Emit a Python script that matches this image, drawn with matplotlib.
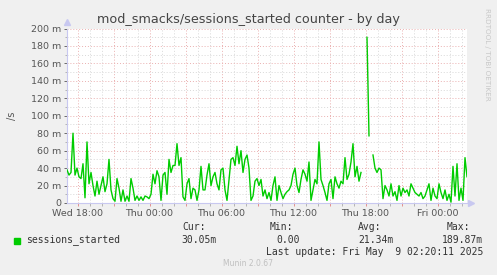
import matplotlib.pyplot as plt
import numpy as np

# munin "by day" graph, one sample every 10 minutes, values in milli/s
START_HOUR = 17.125  # hours since Wed 00:00
STEP_HOURS = 1 / 6

sessions_started = [
    38, 32, 35, 80, 32, 40, 30, 28, 45, 6,
    70, 22, 35, 20, 8, 25, 10, 20, 30, 13,
    22, 50, 15, 5, 2, 28, 17, 2, 15, 2,
    8, 2, 28, 17, 3, 8, 3, 7, 3, 8,
    7, 5, 10, 33, 22, 37, 30, 3, 32, 35,
    10, 50, 35, 43, 43, 68, 43, 52, 7, 3,
    22, 28, 5, 17, 15, 3, 15, 42, 15, 15,
    32, 45, 20, 30, 35, 22, 15, 38, 40, 15,
    3, 27, 50, 52, 43, 65, 45, 60, 35, 50,
    55, 40, 3, 8, 25, 28, 20, 27, 8, 15,
    5, 12, 3, 20, 30, 3, 20, 12, 5, 10,
    13, 15, 20, 33, 40, 20, 12, 27, 38, 33,
    25, 47, 3, 15, 27, 22, 70, 27, 20, 12,
    3, 22, 27, 5, 30, 22, 17, 25, 22, 52,
    27, 33, 47, 68, 30, 42, 25, 35, np.nan, np.nan,
    189.87, 77, np.nan, 55, 40, 35, 40, 38, 5, 20,
    15, 8, 22, 8, 13, 3, 20, 8, 17, 12,
    15, 8, 22, 17, 12, 10, 8, 12, 5, 8,
    15, 22, 3, 17, 8, 5, 22, 12, 5, 15,
    3, 10, 1, 42, 8, 45, 3, 17, 3, 52,
    30.05,
]

y_ticks = [0, 20, 40, 60, 80, 100, 120, 140, 160, 180, 200]
y_labels = ["0"] + [f"{v} m" for v in y_ticks[1:]]
x_ticks = [18, 24, 30, 36, 42, 48]
x_labels = ["Wed 18:00", "Thu 00:00", "Thu 06:00", "Thu 12:00", "Thu 18:00", "Fri 00:00"]

legend_name = "sessions_started"
stat_names = ["Cur:", "Min:", "Avg:", "Max:"]
stat_values = ["30.05m", "0.00", "21.34m", "189.87m"]

W, H = 497, 275
hours = START_HOUR + np.arange(len(sessions_started)) * STEP_HOURS

fig = plt.figure(figsize=(W / 100, H / 100), dpi=100, facecolor="#f0f0f0")
ax = fig.add_axes([67 / W, 72 / H, 400 / W, 174.5 / H])
ax.set_facecolor("white")

ax.plot(hours, sessions_started, color="#00cc00", lw=1.0, zorder=3)

ax.set_xlim(START_HOUR, START_HOUR + 400 / 12)
ax.set_ylim(0, 200)

# grid: red every 3h / 20m, grey every 1h / 10m
ax.set_xticks(np.arange(18, 51, 3))
ax.set_xticklabels([x_labels[x_ticks.index(h)] if h in x_ticks else "" for h in np.arange(18, 51, 3)])
ax.set_xticks(np.arange(18, 51, 1), minor=True)
ax.set_yticks(y_ticks)
ax.set_yticklabels(y_labels)
ax.set_yticks(np.arange(10, 200, 20), minor=True)

ax.grid(which="minor", color="#d8d8d8", linestyle=(0, (1, 2)), lw=0.7)
ax.grid(which="major", color="#eab0b0", linestyle=(0, (1, 2)), lw=0.7)
ax.set_axisbelow(True)

ax.tick_params(which="both", length=2, width=0.6, colors="#555555", labelsize=6.8, pad=2)
ax.tick_params(axis="x", which="major", colors="#e08080", labelcolor="#555555")
ax.tick_params(axis="x", which="minor", colors="#aaaaaa")
ax.tick_params(axis="y", which="minor", length=1.5, colors="#aaaaaa")

for side in ["top", "right"]:
    ax.spines[side].set_visible(False)
for side in ["left", "bottom"]:
    ax.spines[side].set_color("#c8c8f0")
    ax.spines[side].set_linewidth(0.8)
ax.plot([0], [1.035], marker="^", color="#c8c8f0", ms=4, transform=ax.transAxes, clip_on=False)
ax.plot([1.01], [0], marker=">", color="#c8c8f0", ms=4, transform=ax.transAxes, clip_on=False)

ax.set_ylabel("/s", fontsize=7, color="#555555", labelpad=10)

def px(x, y):
    return x / W, 1 - y / H

fig.text(*px(248, 19), "mod_smacks/sessions_started counter - by day",
         ha="center", va="center", fontsize=9.2, color="#444444")
fig.text(*px(487, 54), "RRDTOOL / TOBI OETIKER", rotation=270, ha="center", va="center",
         fontsize=5.2, color="#c8c8c8")

mono = "DejaVu Sans Mono"
fig.patches.append(plt.Rectangle(px(13.5, 243.5), 6 / W, 6 / H, transform=fig.transFigure,
                                 color="#00cc00"))
fig.text(*px(26, 240), legend_name, ha="left", va="center", family=mono, fontsize=7, color="#333333")
for name, x in zip(stat_names, [182, 270, 358, 447]):
    fig.text(*px(x, 227), name, ha="left", va="center", family=mono, fontsize=7, color="#333333")
for val, x in zip(stat_values, [217, 300, 394, 483]):
    fig.text(*px(x, 240), val, ha="right", va="center", family=mono, fontsize=7, color="#333333")
fig.text(*px(483, 252), "Last update: Fri May  9 02:20:11 2025", ha="right", va="center",
         family=mono, fontsize=7, color="#333333")
fig.text(*px(248, 264), "Munin 2.0.67", ha="center", va="center", fontsize=5.5, color="#c0c0c0")

fig.savefig("out.png", dpi=100, facecolor=fig.get_facecolor())
